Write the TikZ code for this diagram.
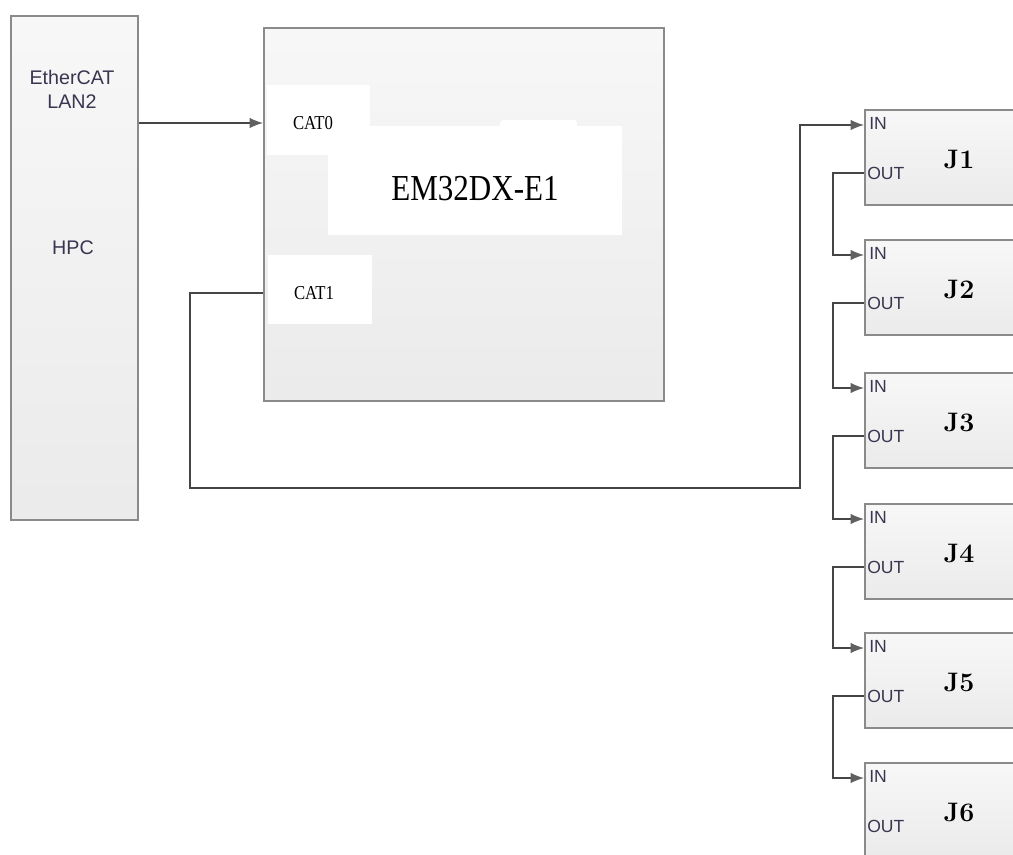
\documentclass[tikz,border=0pt]{standalone}
\usepackage{fontspec}
\newfontfamily\arialfont{Liberation Sans}
\newfontfamily\songfont[FakeStretch=0.85]{Liberation Serif}
\usetikzlibrary{arrows.meta,shadows,calc}
\definecolor{boxline}{HTML}{8A8A8A}
\definecolor{wire}{HTML}{454545}
\definecolor{tipgray}{HTML}{606060}
\definecolor{labelink}{HTML}{3A3550}

\begin{document}
\begin{tikzpicture}[x=0.025cm, y=-0.025cm, line join=miter,
		blockbox/.style={draw=boxline, line width=1.2pt, top color=white!97!black, bottom color=white!92!black,
			drop shadow={shadow xshift=1pt, shadow yshift=-1pt, opacity=0.25}, inner sep=0pt, anchor=north west},
		patch/.style={fill=white, draw=none},
		feed/.style={draw=wire, line width=1pt, -{Latex[length=9.5pt,width=7.5pt,color=tipgray]}},
		hpctext/.style={font=\arialfont\fontsize{14}{16}\selectfont, text=labelink, inner sep=0pt},
		cattext/.style={font=\songfont\fontsize{14}{16}\selectfont, inner sep=0pt},
		porttext/.style={font=\arialfont\fontsize{12.5}{14}\selectfont, text=labelink, inner sep=0pt, anchor=west},
		jtext/.style={font=\bfseries\fontsize{19}{21}\selectfont, inner sep=0pt}]
	\clip (0,0) rectangle (1013,855);

	% HPC
	\node[blockbox, minimum width=3.175cm, minimum height=12.6cm] (HPC) at (10,15) {};
	\node[hpctext] (ecat) at (72,77) {EtherCAT};
	\node[hpctext] (lan) at (72,102) {LAN2};
	\node[hpctext] (hpcname) at (73,248) {HPC};

	% EM32DX-E1
	\node[blockbox, minimum width=10cm, minimum height=9.325cm] (EM) at (263,27) {};
	\fill[patch] (267,85) rectangle (370,155);
	\fill[patch] (328,126) rectangle (622,235);
	\fill[patch, rounded corners=2pt] (500,120) rectangle (577,130);
	\fill[patch] (268,255) rectangle (372,324);
	\node[cattext] (CAT0) at (313,123) {CAT0};
	\node[cattext] (CAT1) at (314,293) {CAT1};
	\node[font=\songfont\fontsize{26}{29}\selectfont, inner sep=0pt] (emname) at (475,189) {EM32DX-E1};

	% J1 ... J6
	\foreach \i/\t in {1/109, 2/239, 3/372, 4/503, 5/632, 6/762} {
		\node[blockbox, minimum width=4cm, minimum height=2.375cm] (J\i) at (864,\t) {};
		\node[porttext] (J\i-inlabel) at (869,{\t+14}) {IN};
		\node[porttext] (J\i-outlabel) at (867,{\t+64}) {OUT};
		\node[jtext] (J\i-name) at (959,{\t+50}) {J\i};
		\coordinate (in\i) at ($(J\i.north west)+(0,16)$);
		\coordinate (out\i) at ($(J\i.north west)+(0,64)$);
	}

	% wiring
	\draw[feed] (HPC.east |- CAT0) -- (EM.west |- CAT0);
	\coordinate (loopcorner) at (800,488);
	\draw[feed] (EM.west |- CAT1) -- ++(-73,0) |- (loopcorner) |- (in1);
	\foreach \i [evaluate=\i as \n using int(\i+1)] in {1,...,5} {
		\draw[feed] (out\i) -- ++(-31,0) |- (in\n);
	}
\end{tikzpicture}
\end{document}
